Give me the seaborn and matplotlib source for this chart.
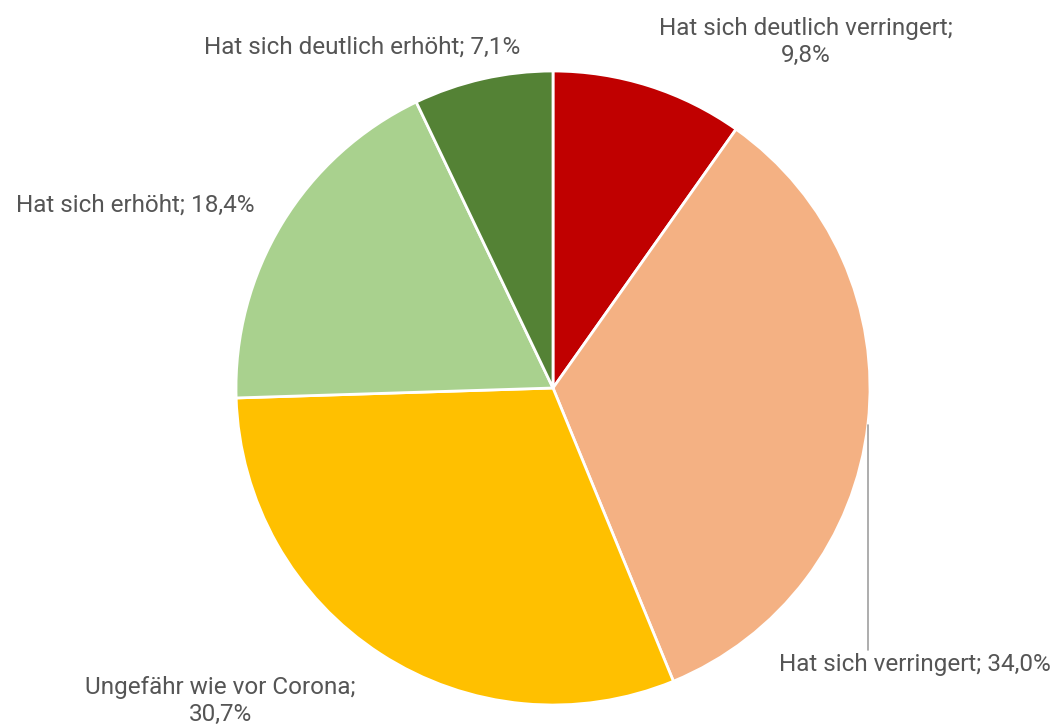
import numpy as np
import matplotlib
matplotlib.use("Agg")
import matplotlib.pyplot as plt
import seaborn as sns

# Change in share since Corona
categories = [
    "Hat sich deutlich verringert",
    "Hat sich verringert",
    "Ungefähr wie vor Corona",
    "Hat sich erhöht",
    "Hat sich deutlich erhöht",
]
shares = [9.8, 34.0, 30.7, 18.4, 7.1]
colors = ["#C00000", "#F4B183", "#FFC000", "#A9D18E", "#548235"]

sns.set_theme(style="white")
plt.rcParams["font.family"] = ["Roboto", "DejaVu Sans"]

W, H = 1058, 727
fig = plt.figure(figsize=(W / 100, H / 100), dpi=100)
ax = fig.add_axes([0, 0, 1, 1])

cx, cy, r = 553, H - 388, 317
wedges, _ = ax.pie(
    shares, colors=colors, startangle=90, counterclock=False,
    center=(cx, cy), radius=r, frame=True,
    wedgeprops=dict(edgecolor="white", linewidth=2),
)
ax.set_xlim(0, W)
ax.set_ylim(0, H)
ax.set_aspect("equal")
ax.axis("off")

def fmt(v):
    return f"{v:.1f}".replace(".", ",") + "%"

txt = dict(color="#555555", fontsize=17.5)
# label anchor positions in figure pixels (x, y from top)
label_pos = [
    ((806, 42), "{c};\n{v}"),
    ((915, 664), "{c}; {v}"),
    ((220, 701), "{c};\n{v}"),
    ((135, 205), "{c}; {v}"),
    ((362, 47), "{c}; {v}"),
]
for cat, val, ((px, py), pat) in zip(categories, shares, label_pos):
    ax.text(px, H - py, pat.format(c=cat, v=fmt(val)), ha="center", va="center",
            linespacing=1.2, **txt)

# leader line for "Hat sich verringert"
ang = np.deg2rad(-6.7)
x0 = cx + r * np.cos(ang)
y0 = cy + r * np.sin(ang)
ax.plot([x0, x0], [y0, H - 650], color="#A0A0A0", lw=1.2)

fig.savefig("out.png", dpi=100)
